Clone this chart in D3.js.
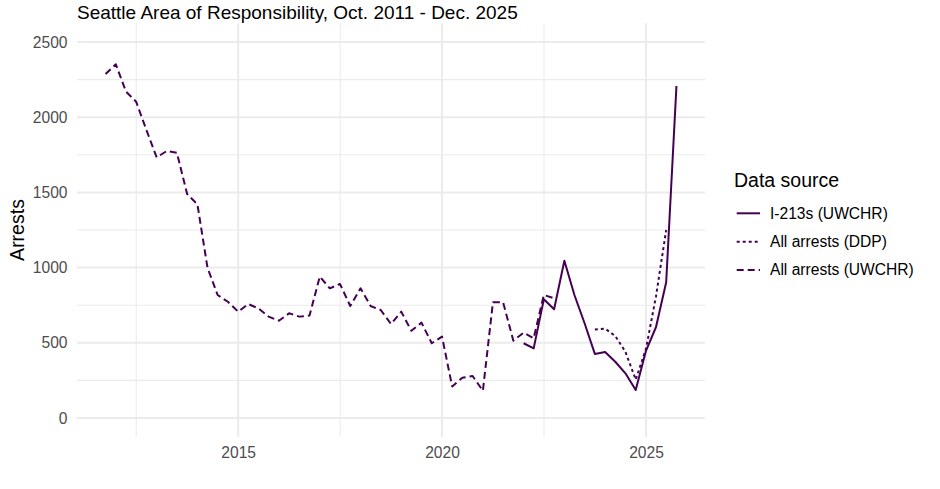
<!DOCTYPE html>
<html>
<head>
<meta charset="utf-8">
<script src="https://cdn.jsdelivr.net/npm/d3@7"></script>
<style>
  html, body { margin: 0; padding: 0; background: #fff; }
  svg { display: block; font-family: "Liberation Sans", Arial, Helvetica, sans-serif; }
</style>
</head>
<body>
<svg id="chart" width="940" height="489"></svg>
<script>
// ---- Data (quarterly, dated at quarter start) ----
const uwchrAllStart = "2011-10-01";
const uwchrAllValues = [2287, 2352, 2170, 2103, 1915, 1733, 1775, 1764, 1489, 1421,
  1000, 818, 773, 707, 758, 729, 674, 647, 696, 674, 681, 940, 862, 891, 745, 862,
  745, 718, 625, 707, 580, 634, 497, 541, 210, 268, 279, 181, 769, 769, 514, 567,
  530, 818, 796];
const i213Start = "2022-01-01";
const i213Values = [497, 463, 789, 723, 1046, 818, 630, 426, 439, 374, 297, 186, 447, 605, 903, 2207];
const ddpStart = "2023-10-01";
const ddpValues = [588, 594, 545, 440, 255, 460, 810, 1250];

const seriesNames = ["I-213s (UWCHR)", "All arrests (DDP)", "All arrests (UWCHR)"];
const yTicks = [0, 500, 1000, 1500, 2000, 2500];
const yMinor = [250, 750, 1250, 1750, 2250];
const xTickYears = [2015, 2020, 2025];
const xMinorYears = [2012.5, 2017.5, 2022.5];
const subtitle = "Seattle Area of Responsibility, Oct. 2011 - Dec. 2025";
const yTitle = "Arrests";
const legendTitle = "Data source";

// ---- Build series ----
const parse = d3.timeParse("%Y-%m-%d");
function toSeries(start, values) {
  const s = parse(start);
  return values.map((v, i) => ({ date: d3.timeMonth.offset(s, 3 * i), value: v }));
}
const series = [
  { name: seriesNames[0], data: toSeries(i213Start, i213Values), dash: null },
  { name: seriesNames[1], data: toSeries(ddpStart, ddpValues), dash: "3,3" },
  { name: seriesNames[2], data: toSeries(uwchrAllStart, uwchrAllValues), dash: "7,4" }
];

// ---- Layout ----
const panel = { left: 77, right: 705, top: 23.2, bottom: 436.8 };
const color = "#440154";
const svg = d3.select("#chart");

const allDates = series.flatMap(s => s.data.map(d => d.date));
const [d0, d1] = d3.extent(allDates);
const span = d1 - d0;
const x = d3.scaleTime()
  .domain([new Date(+d0 - 0.05 * span), new Date(+d1 + 0.05 * span)])
  .range([panel.left, panel.right]);
const y = d3.scaleLinear().domain([-125, 2625]).range([panel.bottom, panel.top]);

function yearDate(yr) {
  const whole = Math.floor(yr);
  const start = new Date(whole, 0, 1), end = new Date(whole + 1, 0, 1);
  return new Date(+start + (yr - whole) * (end - start));
}

// ---- Grid ----
const grid = svg.append("g");
grid.selectAll("line.ymin").data(yMinor).join("line")
  .attr("x1", panel.left).attr("x2", panel.right)
  .attr("y1", d => y(d)).attr("y2", d => y(d))
  .attr("stroke", "#EBEBEB").attr("stroke-width", 1.1);
grid.selectAll("line.xmin").data(xMinorYears).join("line")
  .attr("y1", panel.top).attr("y2", panel.bottom)
  .attr("x1", d => x(yearDate(d))).attr("x2", d => x(yearDate(d)))
  .attr("stroke", "#EBEBEB").attr("stroke-width", 1.1);
grid.selectAll("line.ymaj").data(yTicks).join("line")
  .attr("x1", panel.left).attr("x2", panel.right)
  .attr("y1", d => y(d)).attr("y2", d => y(d))
  .attr("stroke", "#EBEBEB").attr("stroke-width", 2);
grid.selectAll("line.xmaj").data(xTickYears).join("line")
  .attr("y1", panel.top).attr("y2", panel.bottom)
  .attr("x1", d => x(yearDate(d))).attr("x2", d => x(yearDate(d)))
  .attr("stroke", "#EBEBEB").attr("stroke-width", 2);

// ---- Axes ----
const yAxis = d3.axisLeft(y).tickValues(yTicks).tickFormat(d3.format("d"))
  .tickSize(0).tickPadding(0);
const gy = svg.append("g").attr("transform", `translate(${panel.left - 9.5},0)`).call(yAxis);
gy.select(".domain").remove();
gy.selectAll("text").attr("fill", "#4D4D4D").style("font-size", "15.6px")
  .style("font-family", "'Liberation Sans', Arial, sans-serif");

const xAxis = d3.axisBottom(x).tickValues(xTickYears.map(yearDate))
  .tickFormat(d3.timeFormat("%Y")).tickSize(0).tickPadding(0);
const gx = svg.append("g").attr("transform", `translate(0,${panel.bottom + 10})`).call(xAxis);
gx.select(".domain").remove();
gx.selectAll("text").attr("fill", "#4D4D4D").style("font-size", "15.6px")
  .style("font-family", "'Liberation Sans', Arial, sans-serif");

// ---- Lines ----
const line = d3.line().x(d => x(d.date)).y(d => y(d.value));
svg.append("g").selectAll("path").data(series).join("path")
  .attr("d", d => line(d.data))
  .attr("fill", "none")
  .attr("stroke", color)
  .attr("stroke-width", 2)
  .attr("stroke-dasharray", d => d.dash)
  .attr("stroke-linejoin", "round");

// ---- Titles ----
svg.append("text").attr("x", panel.left).attr("y", 18.5)
  .style("font-size", "19px").attr("fill", "#000").text(subtitle);
svg.append("text")
  .attr("transform", `translate(24,${(panel.top + panel.bottom) / 2}) rotate(-90)`)
  .attr("text-anchor", "middle")
  .style("font-size", "19.5px").attr("fill", "#000").text(yTitle);

// ---- Legend ----
const lg = svg.append("g");
lg.append("text").attr("x", 734).attr("y", 186.7)
  .style("font-size", "19.5px").attr("fill", "#000").text(legendTitle);
const keyY = [213.3, 241.7, 270];
series.forEach((s, i) => {
  lg.append("line").attr("x1", 736.7).attr("x2", 760)
    .attr("y1", keyY[i]).attr("y2", keyY[i])
    .attr("stroke", color).attr("stroke-width", 2)
    .attr("stroke-dasharray", s.dash);
  lg.append("text").attr("x", 770).attr("y", keyY[i]).attr("dy", "0.35em")
    .style("font-size", "15.6px").attr("fill", "#000").text(s.name);
});
</script>
</body>
</html>
